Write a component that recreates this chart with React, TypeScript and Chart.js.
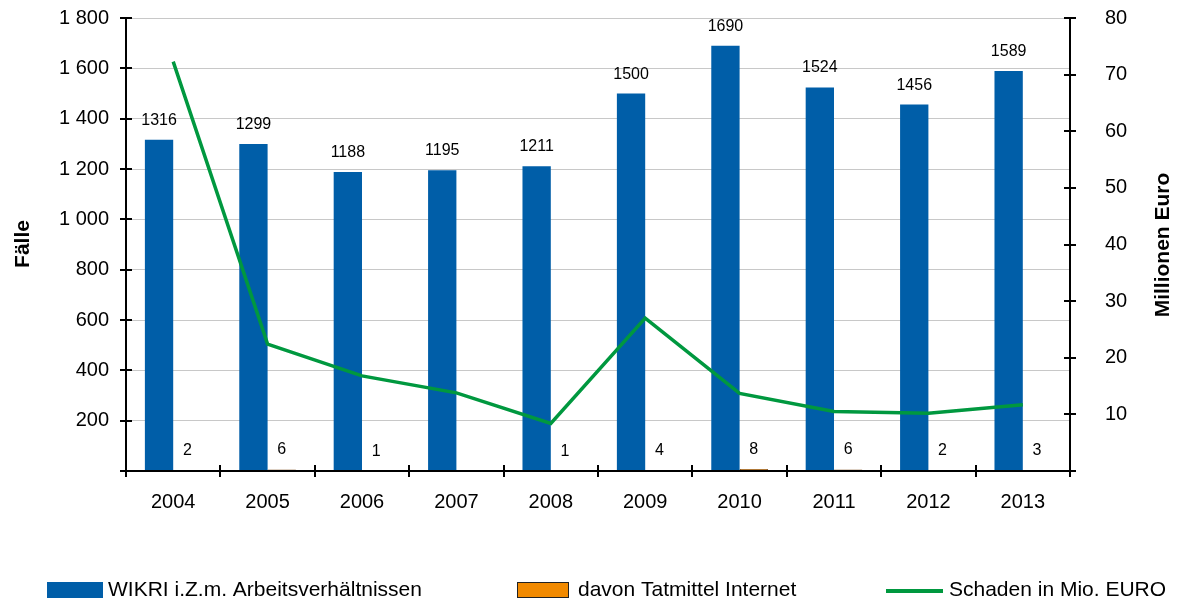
import React, { useEffect, useRef } from 'react';
import { Chart, registerables } from 'chart.js';

Chart.register(...registerables);

// Jahre und Werte
const years = ['2004', '2005', '2006', '2007', '2008', '2009', '2010', '2011', '2012', '2013'];
const casesTotal = [1316, 1299, 1188, 1195, 1211, 1500, 1690, 1524, 1456, 1589];
const casesInternet = [2, 6, 1, 0, 1, 4, 8, 6, 2, 3];
const damageMio = [72.3, 22.4, 16.8, 13.8, 8.4, 27.0, 13.7, 10.5, 10.2, 11.7];

const leftMax = 1800;
const leftStep = 200;
const rightMax = 80;
const rightStep = 10;

const legendLabels = ['WIKRI i.Z.m. Arbeitsverhältnissen', 'davon Tatmittel Internet', 'Schaden in Mio. EURO'];
const leftTitle = 'Fälle';
const rightTitle = 'Millionen Euro';

const BLUE = '#005ea8';
const ORANGE = '#f28a00';
const ORANGE_EDGE = '#7a4512';
const GREEN = '#00983f';
const FONT = '"Liberation Sans", Arial, Helvetica, sans-serif';

const formatThousands = (v: number) => {
  if (v === 0) return '';
  if (v >= 1000) return `${Math.floor(v / 1000)} ${String(v % 1000).padStart(3, '0')}`;
  return String(v);
};

// Werte über den Säulen
const barLabels = {
  id: 'barLabels',
  afterDatasetsDraw(chart: any) {
    const { ctx } = chart;
    ctx.save();
    ctx.font = `16px ${FONT}`;
    ctx.fillStyle = '#000';
    ctx.textAlign = 'center';
    ctx.textBaseline = 'alphabetic';
    chart.data.datasets.forEach((ds: any, di: number) => {
      if (ds.type !== 'bar') return;
      const meta = chart.getDatasetMeta(di);
      meta.data.forEach((el: any, i: number) => {
        const v = ds.data[i];
        if (!v) return;
        ctx.fillText(String(v), el.x, el.y - 15);
      });
    });
    ctx.restore();
  },
};

// Achsenlinien mit durchgehenden Teilstrichen, Achsentitel und Legende
const axesAndLegend = {
  id: 'axesAndLegend',
  afterDraw(chart: any) {
    const { ctx, chartArea, scales } = chart;
    const { left, right, top, bottom } = chartArea;
    ctx.save();
    ctx.strokeStyle = '#000';
    ctx.lineWidth = 2;
    ctx.beginPath();
    ctx.moveTo(left, top);
    ctx.lineTo(left, bottom + 6);
    ctx.moveTo(right, top);
    ctx.lineTo(right, bottom + 6);
    ctx.moveTo(left - 6, bottom);
    ctx.lineTo(right + 6, bottom);
    scales.y.ticks.forEach((t: any) => {
      const py = Math.round(scales.y.getPixelForValue(t.value));
      ctx.moveTo(left - 6, py);
      ctx.lineTo(left + 6, py);
    });
    scales.y1.ticks.forEach((t: any) => {
      const py = Math.round(scales.y1.getPixelForValue(t.value));
      ctx.moveTo(right - 6, py);
      ctx.lineTo(right + 6, py);
    });
    const n = years.length;
    for (let i = 0; i <= n; i++) {
      const px = Math.round(left + (i * (right - left)) / n);
      ctx.moveTo(px, bottom - 6);
      ctx.lineTo(px, bottom + 6);
    }
    ctx.stroke();

    // Achsentitel
    ctx.fillStyle = '#000';
    ctx.font = `bold 21px ${FONT}`;
    ctx.textAlign = 'center';
    ctx.textBaseline = 'middle';
    ctx.save();
    ctx.translate(23, 244);
    ctx.rotate(-Math.PI / 2);
    ctx.fillText(leftTitle, 0, 0);
    ctx.restore();
    ctx.save();
    ctx.translate(1163, 245);
    ctx.rotate(-Math.PI / 2);
    ctx.fillText(rightTitle, 0, 0);
    ctx.restore();

    // Legende
    ctx.font = `21px ${FONT}`;
    ctx.textAlign = 'left';
    ctx.textBaseline = 'middle';
    const ly = 590;
    ctx.fillStyle = BLUE;
    ctx.fillRect(47, 582, 56, 16);
    ctx.fillStyle = '#000';
    ctx.fillText(legendLabels[0], 108, ly);

    ctx.fillStyle = ORANGE;
    ctx.fillRect(517, 582, 52, 16);
    ctx.strokeStyle = '#222';
    ctx.lineWidth = 1;
    ctx.strokeRect(517.5, 582.5, 51, 15);
    ctx.fillStyle = '#000';
    ctx.fillText(legendLabels[1], 578, ly);

    ctx.strokeStyle = GREEN;
    ctx.lineWidth = 4;
    ctx.beginPath();
    ctx.moveTo(886, 591);
    ctx.lineTo(943, 591);
    ctx.stroke();
    ctx.fillStyle = '#000';
    ctx.fillText(legendLabels[2], 949, ly);
    ctx.restore();
  },
};

export default function App() {
  const canvasRef = useRef<HTMLCanvasElement | null>(null);

  useEffect(() => {
    if (!canvasRef.current) return;
    Chart.defaults.font.family = FONT;
    const chart = new Chart(canvasRef.current, {
      type: 'bar',
      data: {
        labels: years,
        datasets: [
          {
            type: 'line',
            label: legendLabels[2],
            data: damageMio,
            yAxisID: 'y1',
            borderColor: GREEN,
            borderWidth: 3.5,
            pointRadius: 0,
            tension: 0,
            fill: false,
            order: 0,
          } as any,
          {
            type: 'bar',
            label: legendLabels[0],
            data: casesTotal,
            yAxisID: 'y',
            backgroundColor: BLUE,
            borderWidth: 0,
            categoryPercentage: 0.6,
            barPercentage: 1,
            order: 1,
          },
          {
            type: 'bar',
            label: legendLabels[1],
            data: casesInternet,
            yAxisID: 'y',
            backgroundColor: ORANGE,
            borderColor: ORANGE_EDGE,
            borderWidth: 1,
            categoryPercentage: 0.6,
            barPercentage: 1,
            order: 1,
          },
        ],
      },
      options: {
        responsive: false,
        animation: false,
        devicePixelRatio: 1,
        layout: { padding: { top: 18, left: 0, right: 0, bottom: 0 } },
        plugins: {
          legend: { display: false },
          tooltip: { enabled: false },
        },
        scales: {
          x: {
            type: 'category',
            offset: true,
            grid: { display: false, drawTicks: false },
            border: { display: false },
            ticks: { color: '#000', font: { size: 20 }, padding: 19, maxRotation: 0 },
            afterFit: (s: any) => {
              s.height = 129;
              s.paddingLeft = 0;
              s.paddingRight = 0;
            },
          },
          y: {
            type: 'linear',
            position: 'left',
            min: 0,
            max: leftMax,
            grid: { color: '#c8c8c8', lineWidth: 1, drawTicks: false },
            border: { display: false },
            ticks: {
              stepSize: leftStep,
              color: '#000',
              font: { size: 20 },
              padding: 17,
              callback: (v: any) => formatThousands(Number(v)),
            },
            afterFit: (s: any) => {
              s.width = 126;
              s.paddingTop = 0;
              s.paddingBottom = 0;
            },
          },
          y1: {
            type: 'linear',
            position: 'right',
            min: 0,
            max: rightMax,
            grid: { drawOnChartArea: false, drawTicks: false },
            border: { display: false },
            ticks: {
              stepSize: rightStep,
              color: '#000',
              font: { size: 20 },
              padding: 35,
              callback: (v: any) => (Number(v) === 0 ? '' : String(v)),
            },
            afterFit: (s: any) => {
              s.width = 107;
              s.paddingTop = 0;
              s.paddingBottom = 0;
            },
          },
        },
      },
      plugins: [barLabels, axesAndLegend],
    });
    return () => chart.destroy();
  }, []);

  return (
    <div style={{ position: 'absolute', left: 0, top: 0, width: 1177, height: 600, background: '#fff' }}>
      <canvas ref={canvasRef} width={1177} height={600} style={{ display: 'block' }} />
    </div>
  );
}
